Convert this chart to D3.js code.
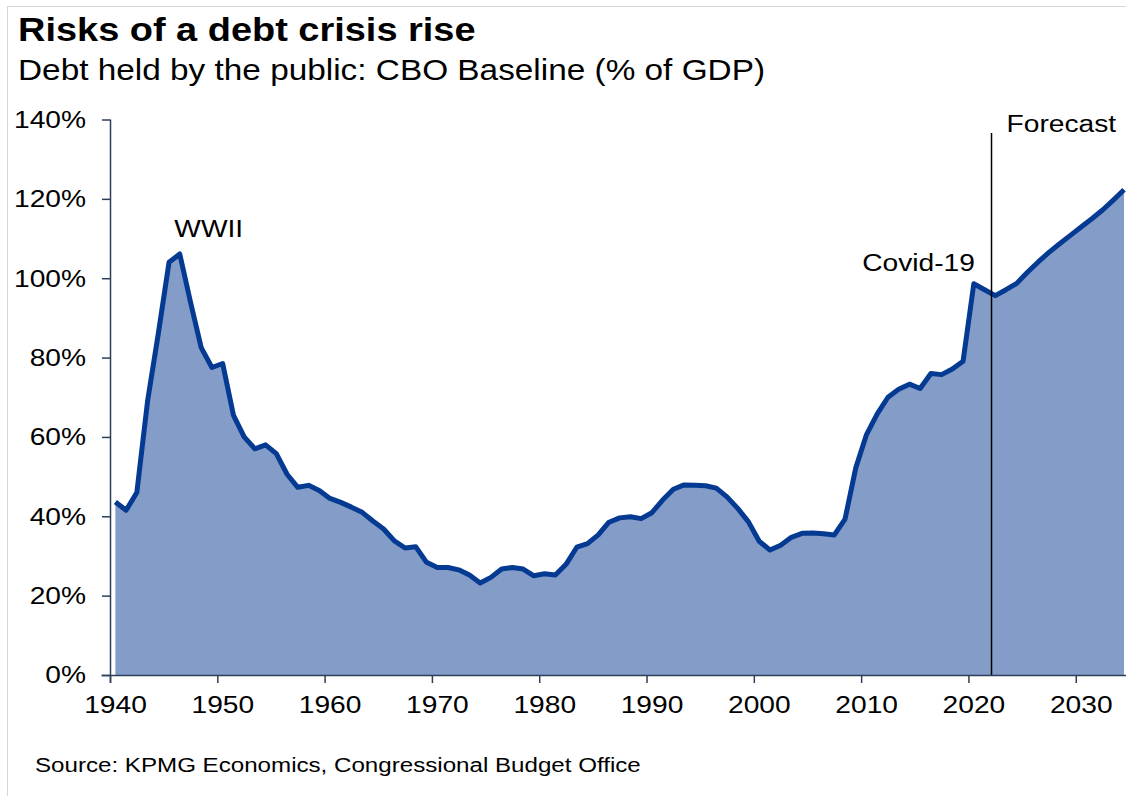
<!DOCTYPE html>
<html lang="en">
<head>
    <meta charset="UTF-8">
    <title>Risks of a debt crisis rise</title>
    <script src="https://d3js.org/d3.v7.min.js"></script>
    <style>
        body { margin: 0; background: #fff; }
        svg { display: block; font-family: "Liberation Sans", Arial, sans-serif; }
    </style>
</head>
<body>
    <svg></svg>
    <script>
        // Debt held by the public, % of GDP (fiscal years, CBO baseline)
        const firstYear = 1940;
        const debt = [
            43.6, 41.5, 46.0, 69.0, 86.0, 104.0, 106.1, 94.0, 82.5, 77.5,   // 1940s
            78.5, 65.5, 60.0, 57.0, 58.0, 55.8, 50.6, 47.3, 47.8, 46.5,     // 1950s
            44.5, 43.5, 42.3, 41.0, 38.8, 36.8, 33.8, 32.0, 32.3, 28.4,     // 1960s
            27.1, 27.1, 26.5, 25.2, 23.2, 24.6, 26.7, 27.1, 26.7, 25.0,     // 1970s
            25.5, 25.2, 27.9, 32.2, 33.1, 35.3, 38.5, 39.6, 39.9, 39.4,     // 1980s
            40.9, 44.1, 46.8, 47.9, 47.8, 47.7, 47.1, 44.9, 42.0, 38.6,     // 1990s
            33.7, 31.5, 32.7, 34.7, 35.7, 35.8, 35.6, 35.3, 39.3, 52.2,     // 2000s
            60.6, 65.8, 70.0, 72.0, 73.3, 72.2, 76.0, 75.7, 77.1, 79.1,     // 2010s
            98.6, 97.1, 95.6, 97.1, 98.7, 101.5, 104.1, 106.5, 108.7, 110.8, // 2020s
            112.9, 115.0, 117.2, 119.7, 122.3                               // 2030s
        ];
        const yTicks = [0, 20, 40, 60, 80, 100, 120, 140];
        const xTicks = [1940, 1950, 1960, 1970, 1980, 1990, 2000, 2010, 2020, 2030];
        const forecastYear = 2022.15;
        const notes = [
            { text: "WWII", year: 1949.2, value: 110.5, anchor: "middle" },
            { text: "Covid-19", year: 2020.6, value: 101.9, anchor: "end" }
        ];

        const width = 1126, height = 796;
        const stretch = 1.15; // text in the reference is a bit wide
        const svg = d3.select("svg").attr("width", width).attr("height", height);

        // light frame
        svg.append("rect")
            .attr("x", 7.5).attr("y", 6.5)
            .attr("width", width + 20).attr("height", height + 20)
            .attr("fill", "none").attr("stroke", "#d6d6d6");

        const x = d3.scaleLinear().domain([1940, 2035]).range([110, 1129.4]);
        const y = d3.scaleLinear().domain([0, 140]).range([675, 119.5]);

        const points = debt.map((v, i) => ({ year: firstYear + i, value: v }));

        function text(g, px, py, str, size, weight, anchor) {
            return g.append("text")
                .attr("transform", `translate(${px},${py}) scale(${stretch},1)`)
                .attr("font-size", size)
                .attr("font-weight", weight || "normal")
                .attr("text-anchor", anchor || "start")
                .attr("fill", "#000")
                .text(str);
        }

        // titles
        text(svg, 18, 41, "Risks of a debt crisis rise", 33, "bold");
        text(svg, 18, 80, "Debt held by the public: CBO Baseline (% of GDP)", 29);
        text(svg, 35, 772, "Source: KPMG Economics, Congressional Budget Office", 21);

        // area + line
        const area = d3.area()
            .x(d => x(d.year + 0.5))
            .y0(y(0))
            .y1(d => y(d.value));
        const line = d3.line()
            .x(d => x(d.year + 0.5))
            .y(d => y(d.value));

        svg.append("path")
            .datum(points)
            .attr("d", area)
            .attr("fill", "#839cc8");

        svg.append("path")
            .datum(points)
            .attr("d", line)
            .attr("fill", "none")
            .attr("stroke", "#053a92")
            .attr("stroke-width", 5)
            .attr("stroke-linejoin", "round");

        // forecast divider
        svg.append("line")
            .attr("x1", x(forecastYear)).attr("x2", x(forecastYear))
            .attr("y1", 133).attr("y2", y(0))
            .attr("stroke", "#000").attr("stroke-width", 1.5);
        text(svg, x(forecastYear) + 15, 132, "Forecast", 24.5);

        // annotations
        notes.forEach(n => text(svg, x(n.year), y(n.value), n.text, 24.5, "normal", n.anchor));

        // axes
        const axisColor = "#2d3e5a";
        const xAxis = svg.append("g")
            .attr("transform", `translate(0,${y(0)})`)
            .call(d3.axisBottom(x).tickValues(xTicks).tickFormat(d3.format("d")).tickSizeOuter(0).tickSize(8).tickPadding(13));
        xAxis.select(".domain").attr("d", `M101.5,0.5H${width}`);

        const yAxis = svg.append("g")
            .attr("transform", `translate(${x(1940)},0)`)
            .call(d3.axisLeft(y).tickValues(yTicks).tickFormat(d => d + "%").tickSizeOuter(0).tickSize(8).tickPadding(16));
        yAxis.select(".domain").attr("d", `M0.5,${y(140)}V${y(0) + 8}`);

        [xAxis, yAxis].forEach(g => {
            g.selectAll(".domain").attr("stroke", axisColor).attr("stroke-width", 1.5);
            g.selectAll(".tick line").attr("stroke", axisColor).attr("stroke-width", 1.5);
            g.selectAll(".tick text")
                .attr("font-size", 24.5)
                .attr("font-family", "'Liberation Sans', Arial, sans-serif")
                .attr("fill", "#000");
        });
        // year labels sit a little right of their ticks in the reference
        xAxis.selectAll(".tick text")
            .attr("x", 5 / stretch)
            .attr("transform", `scale(${stretch},1)`);
        yAxis.selectAll(".tick text").each(function () {
            const t = d3.select(this);
            const tx = +t.attr("x");
            t.attr("x", tx / stretch).attr("transform", `scale(${stretch},1)`);
        });
    </script>
</body>
</html>
